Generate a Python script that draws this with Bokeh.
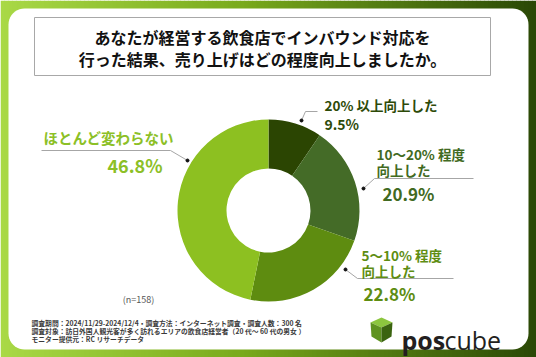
import math
from bokeh.plotting import figure
from bokeh.models import ColumnDataSource
from bokeh.core.properties import value
from bokeh.embed import file_html
from bokeh.resources import INLINE

# ---- data ----
categories = ["20% 以上向上した", "10～20% 程度向上した", "5～10% 程度向上した", "ほとんど変わらない"]
values = [9.5, 20.9, 22.8, 46.8]
pct_labels = ["9.5%", "20.9%", "22.8%", "46.8%"]
label_lines = [["20% 以上向上した"], ["10～20% 程度", "向上した"], ["5～10% 程度", "向上した"], ["ほとんど変わらない"]]
slice_colors = ["#2b4502", "#446b27", "#5e8c10", "#8dc021"]
text_colors = ["#2d4a08", "#416a22", "#5e8d12", "#8cc026"]
title_lines = ["あなたが経営する飲食店でインバウンド対応を", "行った結果、売り上げはどの程度向上しましたか。"]
footer_lines = [
    "調査期間：2024/11/29-2024/12/4・調査方法：インターネット調査・調査人数：300 名",
    "調査対象：訪日外国人観光客が多く訪れるエリアの飲食店経営者（20 代～ 60 代の男女 ）",
    "モニター提供元：RC リサーチデータ",
]
n_label = "(n=158)"

W, H = 536, 357
FONT = value("Noto Sans CJK JP")


def Y(v):
    return H - v


p = figure(width=W, height=H, x_range=(0, W), y_range=(0, H),
           x_axis_type=None, y_axis_type=None, output_backend="svg",
           toolbar_location=None, min_border=0)
p.grid.visible = False
p.outline_line_color = None
p.background_fill_color = "white"
p.border_fill_color = "white"


# ---- background gradient ----
def hex2rgb(h):
    h = h.lstrip("#")
    return tuple(int(h[i:i + 2], 16) for i in (0, 2, 4))


stops = [(0.0, "#a9d946"), (0.45, "#79aa1c"), (1.0, "#2a4806")]


def grad(t):
    for (t0, c0), (t1, c1) in zip(stops[:-1], stops[1:]):
        if t0 <= t <= t1:
            f = (t - t0) / (t1 - t0)
            a, b = hex2rgb(c0), hex2rgb(c1)
            return "#%02x%02x%02x" % tuple(round(a[i] + (b[i] - a[i]) * f) for i in range(3))
    return stops[-1][1]


step = 4
lefts = list(range(0, W, step))
p.quad(left=lefts, right=[l + step + 0.5 for l in lefts], bottom=0, top=H,
       fill_color=[grad((l + step / 2) / W) for l in lefts], line_color=None)


# white rounded card (decoration)
def rounded_rect(x0, y0, x1, y1, r, n=10):
    xs, ys = [], []
    corners = [(x1 - r, y1 - r, 0), (x0 + r, y1 - r, 90), (x0 + r, y0 + r, 180), (x1 - r, y0 + r, 270)]
    for (ccx, ccy, a0) in corners:
        for k in range(n + 1):
            a = math.radians(a0 + 90 * k / n)
            xs.append(ccx + r * math.cos(a))
            ys.append(ccy + r * math.sin(a))
    return xs, ys


cxs, cys = rounded_rect(8, Y(349), 528, Y(8), 16)
p.patch(x=cxs, y=cys, fill_color="white", line_color=None)

# title box
p.quad(left=[34], right=[490], bottom=[Y(75)], top=[Y(17)], fill_color="white",
       line_color="#a8a8a8", line_width=1)
p.text(x=[262, 262], y=[Y(36), Y(58)], text=title_lines, text_font=FONT,
       text_font_size="16px", text_font_style="bold", text_color="#111111",
       text_align="center", text_baseline="middle")

# ---- donut ----
cx, cy = 268, 210
total = sum(values)
starts, ends = [], []
cum = 0.0
for v in values:
    starts.append(math.pi / 2 - cum / total * 2 * math.pi)
    cum += v
    ends.append(math.pi / 2 - cum / total * 2 * math.pi)
src = ColumnDataSource(dict(cat=categories, val=values, start=starts, end=ends, color=slice_colors))
p.annular_wedge(x=cx, y=Y(cy), inner_radius=42, outer_radius=91,
                start_angle="start", end_angle="end", direction="clock",
                fill_color="color", line_color=None, source=src)

# ---- leader lines (layout) ----
leaders = [
    [(301, 120), (305, 111), (317, 111)],
    [(363, 188), (374, 178), (473, 178)],
    [(345, 269), (357, 278), (453, 278)],
    [(187, 160), (170, 150), (41, 150)],
]
p.multi_line(xs=[[pt[0] for pt in l] for l in leaders],
             ys=[[Y(pt[1]) for pt in l] for l in leaders],
             line_color="#a6a6a6", line_width=1)
p.scatter(x=[l[0][0] for l in leaders], y=[Y(l[0][1]) for l in leaders],
          size=3, color="#111111")

# ---- labels ----
cat_pos = [
    [(324, 104)],
    [(376, 153), (376, 169)],
    [(361, 254), (361, 270)],
    [(43, 137)],
]
cat_sizes = ["13.5px", "13.5px", "13.5px", "14.5px"]
for i in range(4):
    p.text(x=[pt[0] for pt in cat_pos[i]], y=[Y(pt[1]) for pt in cat_pos[i]],
           text=label_lines[i], text_font=FONT, text_font_size=cat_sizes[i],
           text_font_style="bold", text_color=text_colors[i],
           text_align="left", text_baseline="middle")

pct_pos = [(324, 123), (382, 193), (363, 293), (107, 164)]
pct_sizes = ["14px", "17px", "17px", "18px"]
for i in range(4):
    p.text(x=[pct_pos[i][0]], y=[Y(pct_pos[i][1])], text=[pct_labels[i]],
           text_font=FONT, text_font_size=pct_sizes[i], text_font_style="bold",
           text_color=text_colors[i], text_align="left", text_baseline="middle")

# n label
p.text(x=[138], y=[Y(299)], text=[n_label], text_font=FONT, text_font_size="9px",
       text_color="#555555", text_align="center", text_baseline="middle")

# footer
p.text(x=[31, 31, 31], y=[Y(322), Y(330), Y(338)], text=footer_lines, text_font=FONT,
       text_font_size="6.8px", text_font_style="bold", text_color="#3a3a3a",
       text_align="left", text_baseline="middle")

# ---- poscube logo ----
top_face = [(381, 317), (370, 322), (381, 327), (392, 322)]
left_face = [(370, 322), (381, 327), (381, 342), (371, 336)]
right_face = [(392, 322), (381, 327), (381, 342), (391, 336)]
faces = [top_face, left_face, right_face]
p.patches(xs=[[pt[0] for pt in f] for f in faces], ys=[[Y(pt[1]) for pt in f] for f in faces],
          fill_color=["#8cc63e", "#5f9320", "#3b6410"], line_color=None)
p.text(x=[401], y=[Y(339)], text=["pos"], text_font=value("Open Sans"),
       text_font_size="25px", text_font_style="bold", text_color="#231f20",
       text_align="left", text_baseline="alphabetic")
p.text(x=[444], y=[Y(339)], text=["cube"], text_font=value("Open Sans"),
       text_font_size="25px", text_color="#231f20",
       text_align="left", text_baseline="alphabetic")

open("out.html", "w").write(file_html(p, INLINE))
